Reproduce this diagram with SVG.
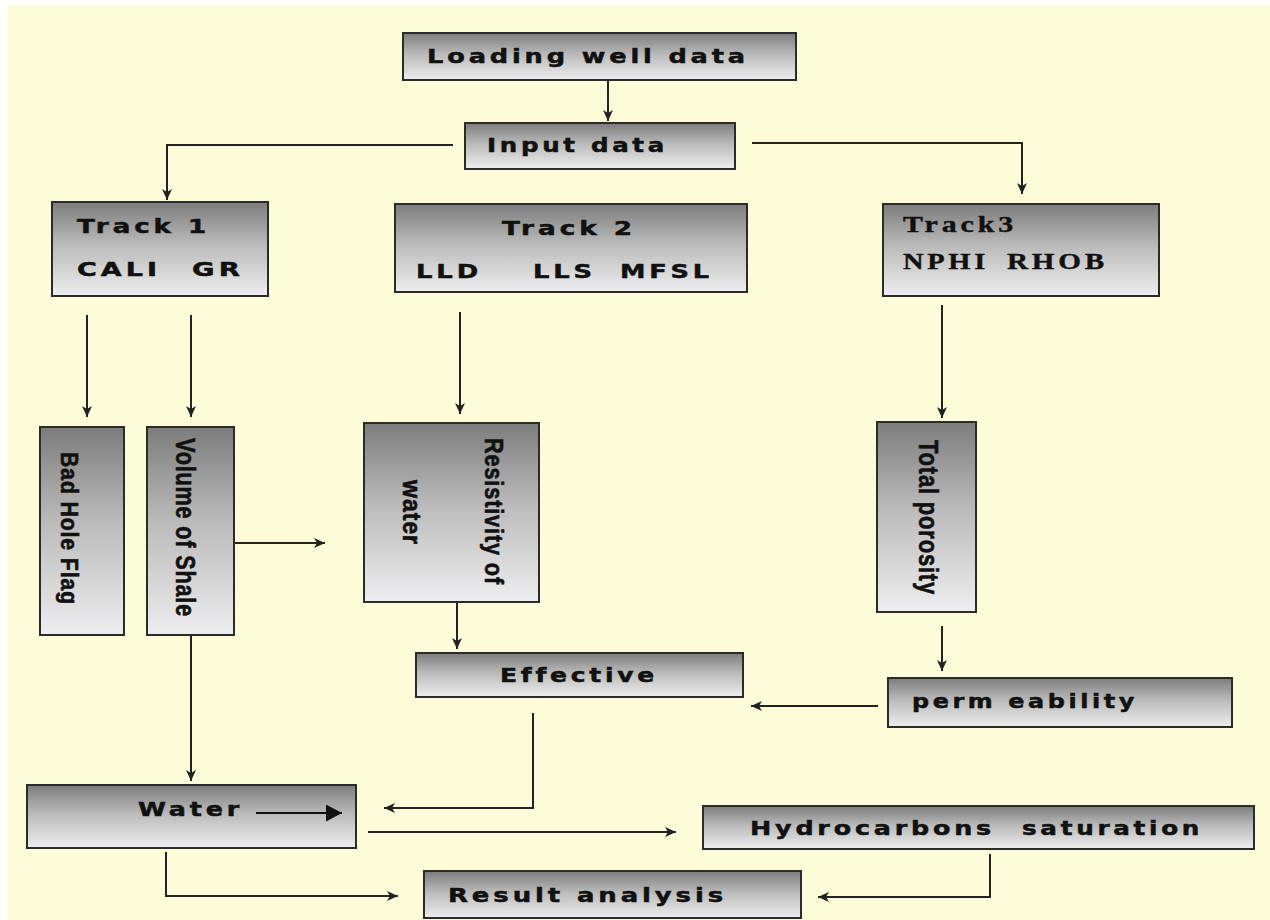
<svg xmlns="http://www.w3.org/2000/svg" width="1270" height="920" viewBox="0 0 1270 920">
<defs>
<linearGradient id="g" x1="0" y1="0" x2="0" y2="1">
<stop offset="0" stop-color="#7c7c7c"/>
<stop offset="0.45" stop-color="#bababa"/>
<stop offset="1" stop-color="#eeeef0"/>
</linearGradient>
<marker id="ah" markerWidth="12" markerHeight="10" refX="11" refY="5" orient="auto" markerUnits="userSpaceOnUse">
<path d="M0,0 L11,5 L0,10 L3,5 Z" fill="#222"/>
</marker>
<marker id="big" markerWidth="17" markerHeight="17" refX="16" refY="8.5" orient="auto" markerUnits="userSpaceOnUse">
<path d="M0,0 L16,8.5 L0,17 Z" fill="#111"/>
</marker>
</defs>
<style>
.box{fill:url(#g);stroke:#2b2b2b;stroke-width:2}
.t{font-family:"DejaVu Sans","Liberation Sans",sans-serif;font-weight:bold;font-size:20px;letter-spacing:3px;fill:#111;stroke:#111;stroke-width:0.5}
.s{font-family:"Liberation Serif","Times New Roman",serif;font-weight:bold;font-size:23px;letter-spacing:3px;fill:#111;stroke:#111;stroke-width:0.4}
.v{font-family:"Liberation Sans",Arial,sans-serif;font-weight:bold;fill:#111;letter-spacing:1px;stroke:#111;stroke-width:0.6}
.c{fill:none;stroke:#222;stroke-width:2;marker-end:url(#ah)}
</style>
<rect x="0" y="0" width="1270" height="920" fill="#ffffff"/>
<rect x="8" y="5" width="1262" height="915" fill="#fcfcd9"/>

<g id="connectors">
<path class="c" d="M608,81 V121"/>
<path class="c" d="M453,145 H167 V200"/>
<path class="c" d="M752,143 H1022 V194"/>
<path class="c" d="M87,315 V417"/>
<path class="c" d="M191,315 V417"/>
<path class="c" d="M460,312 V414"/>
<path class="c" d="M942,305 V418"/>
<path class="c" d="M234,543 H325"/>
<path class="c" d="M457,602 V649"/>
<path class="c" d="M942,626 V671"/>
<path class="c" d="M878,706 H751"/>
<path class="c" d="M191,635 V781"/>
<path class="c" d="M533,713 V808 H384"/>
<path class="c" d="M368,832 H676"/>
<path class="c" d="M166,852 V896 H398"/>
<path class="c" d="M990,854 V897 H818"/>
</g>

<g id="loading">
<rect class="box" x="403" y="33" width="393" height="47"/>
<text class="t" x="427" y="63" font-size="18" textLength="322" lengthAdjust="spacingAndGlyphs">Loading well data</text>
</g>
<g id="input">
<rect class="box" x="465" y="123" width="270" height="46"/>
<text class="t" x="487" y="152" font-size="19" textLength="181" lengthAdjust="spacingAndGlyphs">Input data</text>
</g>
<g id="track1">
<rect class="box" x="52" y="202" width="216" height="94"/>
<text class="t" x="77" y="233" textLength="133" lengthAdjust="spacingAndGlyphs">Track 1</text>
<text class="t" y="276"><tspan x="77" textLength="84" lengthAdjust="spacingAndGlyphs">CALI</tspan> <tspan x="192" textLength="52" lengthAdjust="spacingAndGlyphs">GR</tspan></text>
</g>
<g id="track2">
<rect class="box" x="395" y="204" width="352" height="88"/>
<text class="t" x="502" y="235" textLength="134" lengthAdjust="spacingAndGlyphs">Track 2</text>
<text class="t" y="278"><tspan x="416" textLength="66" lengthAdjust="spacingAndGlyphs">LLD</tspan> <tspan x="533" textLength="63" lengthAdjust="spacingAndGlyphs">LLS</tspan> <tspan x="620" textLength="93" lengthAdjust="spacingAndGlyphs">MFSL</tspan></text>
</g>
<g id="track3">
<rect class="box" x="883" y="204" width="276" height="92"/>
<text class="s" x="903" y="232" font-size="23" textLength="114" lengthAdjust="spacingAndGlyphs">Track3</text>
<text class="s" y="269"><tspan x="903" textLength="86" lengthAdjust="spacingAndGlyphs">NPHI</tspan> <tspan x="1007" textLength="101" lengthAdjust="spacingAndGlyphs">RHOB</tspan></text>
</g>
<g id="badhole">
<rect class="box" x="40" y="427" width="84" height="208"/>
<text class="v" font-size="23" transform="translate(61,452) rotate(90)" textLength="153" lengthAdjust="spacingAndGlyphs">Bad Hole Flag</text>
</g>
<g id="volume">
<rect class="box" x="147" y="427" width="87" height="208"/>
<text class="v" font-size="27" transform="translate(176,438) rotate(90)" textLength="179" lengthAdjust="spacingAndGlyphs">Volume of Shale</text>
</g>
<g id="resistivity">
<rect class="box" x="364" y="423" width="175" height="179"/>
<text class="v" font-size="25" transform="translate(485,438) rotate(90)" textLength="147" lengthAdjust="spacingAndGlyphs">Resistivity of</text>
<text class="v" font-size="25" transform="translate(403,480) rotate(90)" textLength="65" lengthAdjust="spacingAndGlyphs">water</text>
</g>
<g id="totalporosity">
<rect class="box" x="877" y="422" width="99" height="190"/>
<text class="v" font-size="27" transform="translate(919,440) rotate(90)" textLength="155" lengthAdjust="spacingAndGlyphs">Total porosity</text>
</g>
<g id="effective">
<rect class="box" x="416" y="653" width="327" height="44"/>
<text class="t" x="500" y="682" textLength="158" lengthAdjust="spacingAndGlyphs">Effective</text>
</g>
<g id="permeability">
<rect class="box" x="888" y="678" width="344" height="49"/>
<text class="t" x="912" y="708" textLength="226" lengthAdjust="spacingAndGlyphs">perm eability</text>
</g>
<g id="water">
<rect class="box" x="27" y="785" width="329" height="63"/>
<text class="t" x="138" y="816" textLength="105" lengthAdjust="spacingAndGlyphs">Water</text>
<path d="M256,813 H342" stroke="#111" stroke-width="2" fill="none" marker-end="url(#big)"/>
</g>
<g id="hydrocarbons">
<rect class="box" x="703" y="806" width="551" height="43"/>
<text class="t" y="835"><tspan x="750" textLength="245" lengthAdjust="spacingAndGlyphs">Hydrocarbons</tspan> <tspan x="1022" textLength="181" lengthAdjust="spacingAndGlyphs">saturation</tspan></text>
</g>
<g id="result">
<rect class="box" x="424" y="871" width="377" height="47"/>
<text class="t" x="448" y="902" textLength="279" lengthAdjust="spacingAndGlyphs">Result analysis</text>
</g>
</svg>
